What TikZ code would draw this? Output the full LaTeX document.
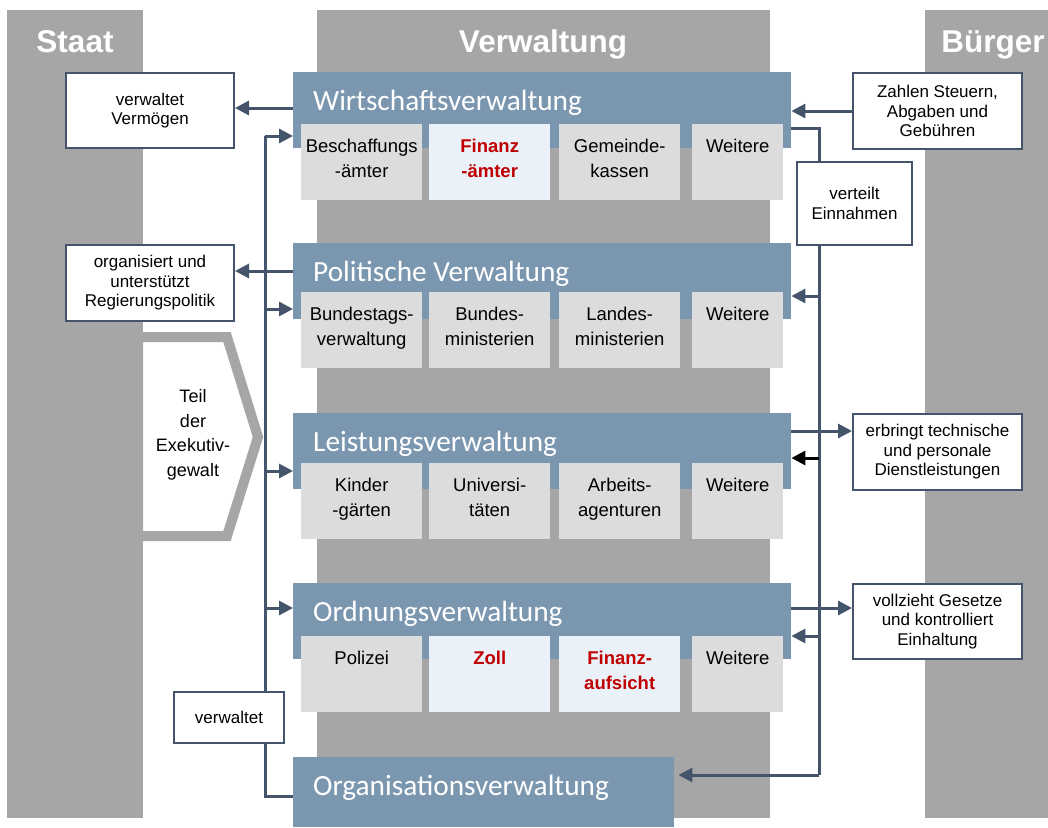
\documentclass[tikz,border=0pt]{standalone}
\usepackage{fontspec}
\setmainfont{Liberation Sans}
\newfontfamily\hdfont{Carlito}
\usetikzlibrary{calc,arrows.meta}

\definecolor{colgray}{HTML}{A6A6A6}
\definecolor{hdblue}{HTML}{7B97B0}
\definecolor{boxgray}{HTML}{DCDCDC}
\definecolor{paleblue}{HTML}{EAF1F8}
\definecolor{linec}{HTML}{44546A}
\definecolor{redc}{HTML}{C00000}

\tikzset{
  col/.style={fill=colgray, draw=none},
  coltitle/.style={text=white, font=\fontsize{31.5}{36}\selectfont\bfseries, inner sep=0, anchor=base},
  header/.style={fill=hdblue, draw=none, anchor=north west, minimum width=498pt, minimum height=76pt, inner sep=0},
  hdtext/.style={text=white, font=\hdfont\fontsize{29.3}{33}\selectfont, anchor=base west, inner sep=0},
  sub/.style={fill=boxgray, draw=none, anchor=north west, minimum height=76pt, inner sep=0},
  subhl/.style={sub, fill=paleblue},
  subtxt/.style={font=\fontsize{18.5}{25}\selectfont, align=center, inner sep=0, anchor=north},
  subred/.style={subtxt, text=redc, font=\fontsize{18.5}{25}\selectfont\bfseries},
  note/.style={draw=linec, line width=2pt, fill=white, align=center, inner sep=0,
    font=\fontsize{17}{19.5}\selectfont, anchor=north west},
  conn/.style={draw=linec, line width=3pt},
  arr/.style={conn, -{Triangle[length=14pt,width=14pt]}},
}

% one cell of a department row: name, x, y, width, box style, text style, text
\newcommand\subcell[7]{%
  \node[#5, minimum width=#4pt] (#1) at (#2,#3) {};
  \node[#6] (#1t) at ($(#1.north)+(0,10.5)$) {\strut #7};}

% blue department header: name, y, title
\newcommand\mkhead[3]{%
  \node[header] (#1) at (293,#2) {};
  \node[hdtext] (#1t) at ($(#1.north west)+(20,38)$) {#3};}

\begin{document}
\begin{tikzpicture}[x=1pt, y=-1pt]
\useasboundingbox (0,0) rectangle (1048,827);
\fill[white] (0,0) rectangle (1048,827);

% the three columns
\fill[col] (7,10) rectangle (143,818);
\fill[col] (317,10) rectangle (770,818);
\fill[col] (925,10) rectangle (1048,818);
\node[coltitle] (tstaat) at (75,52) {Staat};
\node[coltitle] (tverw) at (543,52) {Verwaltung};
\node[coltitle] (tbuerger) at (993,52) {Bürger};

% Wirtschaftsverwaltung
\mkhead{w}{72}{Wirtschaftsverwaltung}
\subcell{w1}{301}{124}{121}{sub}{subtxt}{Beschaffungs\\-ämter}
\subcell{w2}{429}{124}{121}{subhl}{subred}{Finanz\\-ämter}
\subcell{w3}{559}{124}{121}{sub}{subtxt}{Gemeinde-\\kassen}
\subcell{w4}{692}{124}{91}{sub}{subtxt}{Weitere}

% Politische Verwaltung
\mkhead{p}{243}{Politische Verwaltung}
\subcell{p1}{301}{292}{121}{sub}{subtxt}{Bundestags-\\verwaltung}
\subcell{p2}{429}{292}{121}{sub}{subtxt}{Bundes-\\ministerien}
\subcell{p3}{559}{292}{121}{sub}{subtxt}{Landes-\\ministerien}
\subcell{p4}{692}{292}{91}{sub}{subtxt}{Weitere}

% Leistungsverwaltung
\mkhead{l}{413}{Leistungsverwaltung}
\subcell{l1}{301}{463}{121}{sub}{subtxt}{Kinder\\-gärten}
\subcell{l2}{429}{463}{121}{sub}{subtxt}{Universi-\\täten}
\subcell{l3}{559}{463}{121}{sub}{subtxt}{Arbeits-\\agenturen}
\subcell{l4}{692}{463}{91}{sub}{subtxt}{Weitere}

% Ordnungsverwaltung
\mkhead{o}{583}{Ordnungsverwaltung}
\subcell{o1}{301}{636}{121}{sub}{subtxt}{Polizei}
\subcell{o2}{429}{636}{121}{subhl}{subred}{Zoll}
\subcell{o3}{559}{636}{121}{subhl}{subred}{Finanz-\\aufsicht}
\subcell{o4}{692}{636}{91}{sub}{subtxt}{Weitere}

% Organisationsverwaltung
\node[header, minimum width=381pt, minimum height=70pt] (ov) at (293,757) {};
\node[hdtext] (ovt) at ($(ov.north west)+(20,38)$) {Organisationsverwaltung};

% Teil der Exekutivgewalt
\draw[line width=10pt, colgray, fill=white, line join=miter]
  (138,337) -- (227,337) -- (258,437) -- (227,536) -- (138,536) -- cycle;
\node[font=\fontsize{18}{24.5}\selectfont, align=center, inner sep=0] (exek) at (193,435)
  {Teil\\der\\Exekutiv-\\gewalt};

% notes
\node[note, minimum width=168pt, minimum height=75pt] (vv) at (65,72) {verwaltet\\Vermögen};
\node[note, minimum width=168pt, minimum height=76pt] (og) at (65,244) {organisiert und\\unterstützt\\Regierungspolitik};
\node[note, minimum width=110pt, minimum height=51pt] (vw) at (173,691) {verwaltet};
\node[note, minimum width=169pt, minimum height=76pt] (zs) at (852,72) {Zahlen Steuern,\\Abgaben und\\Gebühren};
\node[note, minimum width=115pt, minimum height=83pt] (ve) at (796,161) {verteilt\\Einnahmen};
\node[note, minimum width=169pt, minimum height=76pt] (eb) at (852,413) {erbringt technische\\und personale\\Dienstleistungen};
\node[note, minimum width=169pt, minimum height=75pt] (vg) at (852,583) {vollzieht Gesetze\\und kontrolliert\\Einhaltung};

% left distribution line
\coordinate (lw) at (265,136);
\coordinate (lp) at (265,309);
\coordinate (ll) at (265,471);
\coordinate (lo) at (265,608);
\coordinate (lb) at (265,796);
\draw[conn] (ov.west |- lb) -- (lb) -- (vw.south -| lb);
\draw[conn] (vw.north -| lb) -- (lw);
\draw[arr] (lw) -- (lw -| w.west);
\draw[arr] (lp) -- (lp -| p.west);
\draw[arr] (ll) -- (ll -| l.west);
\draw[arr] (lo) -- (lo -| o.west);

% arrows to the state notes
\coordinate (aw) at (293,108);
\coordinate (ap) at (293,271);
\draw[arr] (aw -| w.west) -- (aw -| vv.east);
\draw[arr] (ap -| p.west) -- (ap -| og.east);

% right distribution line
\coordinate (rt) at (819,128);
\coordinate (rp) at (819,296);
\coordinate (rl) at (819,458);
\coordinate (ro) at (819,636);
\coordinate (rb) at (819,775);
\draw[conn] (rt -| w.east) -- (rt) -- (ve.north -| rt);
\draw[conn] (ve.south -| rt) -- (rb);
\draw[arr, shorten >=4pt] (rb) -- (rb -| ov.east);
\draw[arr] (rp) -- (rp -| p.east);
\draw[arr, draw=black] (rl) -- (rl -| l.east);
\draw[arr] (ro) -- (ro -| o.east);

% arrows between citizens and administration
\coordinate (ql) at (791,431);
\coordinate (qo) at (791,608);
\draw[arr] (zs.west) -- (zs.west -| w.east);
\draw[arr] (ql -| l.east) -- (ql -| eb.west);
\draw[arr] (qo -| o.east) -- (qo -| vg.west);
\end{tikzpicture}
\end{document}
